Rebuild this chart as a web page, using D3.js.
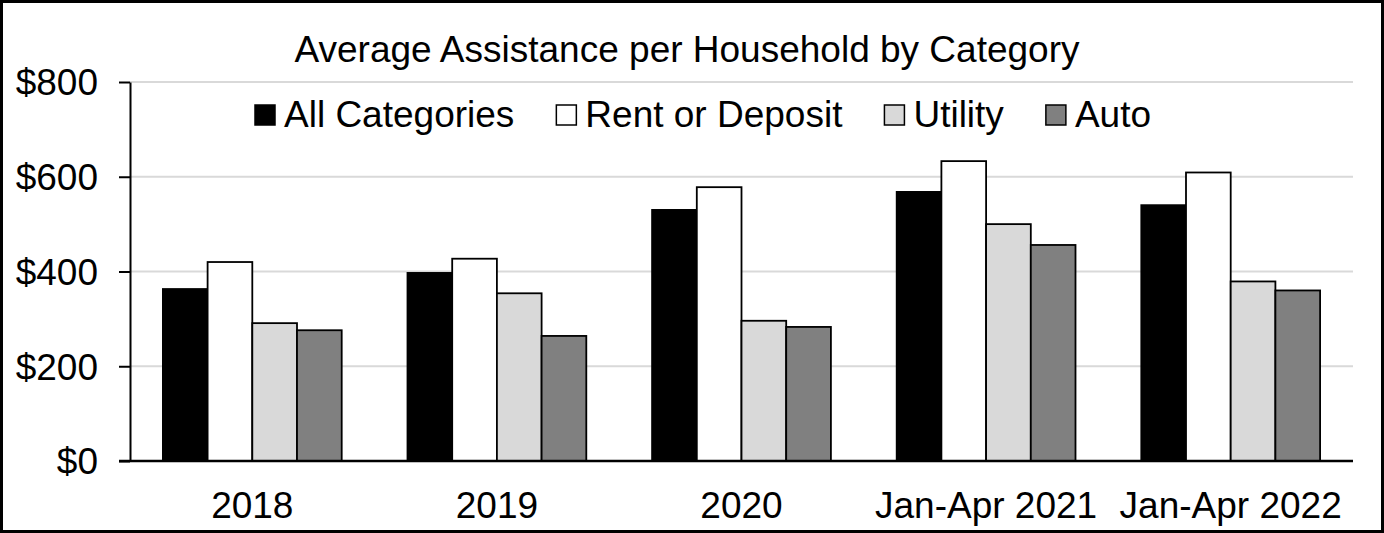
<!DOCTYPE html>
<html lang="en">
  <head>
    <meta charset="utf-8">
    <title>Average Assistance per Household by Category</title>
    <script src="https://d3js.org/d3.v7.min.js"></script>
    <style type="text/css">
      body {
        margin: 0;
        background-color: white;
      }
      text {
        font-family: "Liberation Sans", Arial, sans-serif;
        fill: black;
      }
    </style>
  </head>
  <body>
    <svg></svg>
    <script type="text/javascript">

    const categories = ["2018", "2019", "2020", "Jan-Apr 2021", "Jan-Apr 2022"];
    const seriesNames = ["All Categories", "Rent or Deposit", "Utility", "Auto"];
    const allCategories = [363, 397, 530, 568, 540];
    const rentOrDeposit = [420, 427, 578, 633, 609];
    const utility = [291, 354, 296, 500, 379];
    const auto = [276, 264, 283, 456, 360];
    const yTicks = [0, 200, 400, 600, 800];

    const seriesValues = [allCategories, rentOrDeposit, utility, auto];
    const colors = ["#000000", "#ffffff", "#d9d9d9", "#808080"];

    const width = 1384;
    const height = 533;
    const fontSize = 37;

    const svg = d3.select("svg")
      .attr("width", width)
      .attr("height", height);

    // frame round the whole chart
    svg.append("rect")
      .attr("x", 1.5)
      .attr("y", 1.5)
      .attr("width", width - 3)
      .attr("height", height - 3)
      .attr("fill", "white")
      .attr("stroke", "black")
      .attr("stroke-width", 3);

    const plotLeft = 130, plotRight = 1353, plotTop = 82, plotBottom = 461;

    const x = d3.scaleBand()
      .domain(categories)
      .range([plotLeft, plotRight])
      .paddingInner(0.269)
      .paddingOuter(0.1345);

    const xInner = d3.scaleBand()
      .domain(seriesNames)
      .range([0, x.bandwidth()])
      .padding(0);

    const y = d3.scaleLinear()
      .domain([0, 800])
      .range([plotBottom, plotTop]);

    // gridlines
    svg.append("g")
      .selectAll("line")
      .data(yTicks.filter(d => d > 0))
      .enter()
      .append("line")
      .attr("x1", plotLeft)
      .attr("x2", plotRight)
      .attr("y1", d => y(d))
      .attr("y2", d => y(d))
      .attr("stroke", "#d9d9d9")
      .attr("stroke-width", 2);

    // bars
    const rows = [];
    categories.forEach((c, i) => {
      seriesNames.forEach((s, j) => {
        rows.push({cat: c, series: s, value: seriesValues[j][i], color: colors[j]});
      });
    });

    svg.append("g")
      .selectAll("rect")
      .data(rows)
      .enter()
      .append("rect")
      .attr("x", d => x(d.cat) + xInner(d.series))
      .attr("y", d => y(d.value))
      .attr("width", xInner.bandwidth())
      .attr("height", d => y(0) - y(d.value))
      .attr("fill", d => d.color)
      .attr("stroke", "black")
      .attr("stroke-width", 1.8);

    // y axis
    const yAxis = svg.append("g")
      .attr("transform", "translate(" + plotLeft + ",0)")
      .call(d3.axisLeft(y)
        .tickValues(yTicks)
        .tickFormat(d => "$" + d)
        .tickSize(11)
        .tickSizeOuter(0));

    yAxis.select(".domain")
      .attr("stroke", "black")
      .attr("stroke-width", 2);
    yAxis.selectAll(".tick line")
      .attr("stroke", "black")
      .attr("stroke-width", 2);
    yAxis.selectAll(".tick text")
      .attr("font-family", "Liberation Sans, Arial, sans-serif")
      .attr("font-size", fontSize)
      .attr("fill", "black")
      .attr("x", -32)
      .attr("dy", "0.35em");

    // baseline
    svg.append("line")
      .attr("x1", plotLeft - 11)
      .attr("x2", plotRight)
      .attr("y1", y(0))
      .attr("y2", y(0))
      .attr("stroke", "black")
      .attr("stroke-width", 2.5);

    // category labels
    svg.append("g")
      .selectAll("text")
      .data(categories)
      .enter()
      .append("text")
      .attr("text-anchor", "middle")
      .attr("font-size", fontSize)
      .attr("x", d => x(d) + x.bandwidth() / 2)
      .attr("y", 518)
      .text(d => d);

    // title
    svg.append("text")
      .attr("text-anchor", "middle")
      .attr("font-size", fontSize)
      .attr("x", 687)
      .attr("y", 62)
      .text("Average Assistance per Household by Category");

    // legend
    const legend = svg.append("g");
    let lx = 255;
    seriesNames.forEach((s, j) => {
      legend.append("rect")
        .attr("x", lx)
        .attr("y", 105)
        .attr("width", 20)
        .attr("height", 20)
        .attr("fill", colors[j])
        .attr("stroke", "black")
        .attr("stroke-width", 1.5);
      const t = legend.append("text")
        .attr("font-size", fontSize)
        .attr("x", lx + 29)
        .attr("y", 127)
        .text(s);
      lx = lx + 29 + t.node().getComputedTextLength() + 42;
    });

    </script>
  </body>
</html>
